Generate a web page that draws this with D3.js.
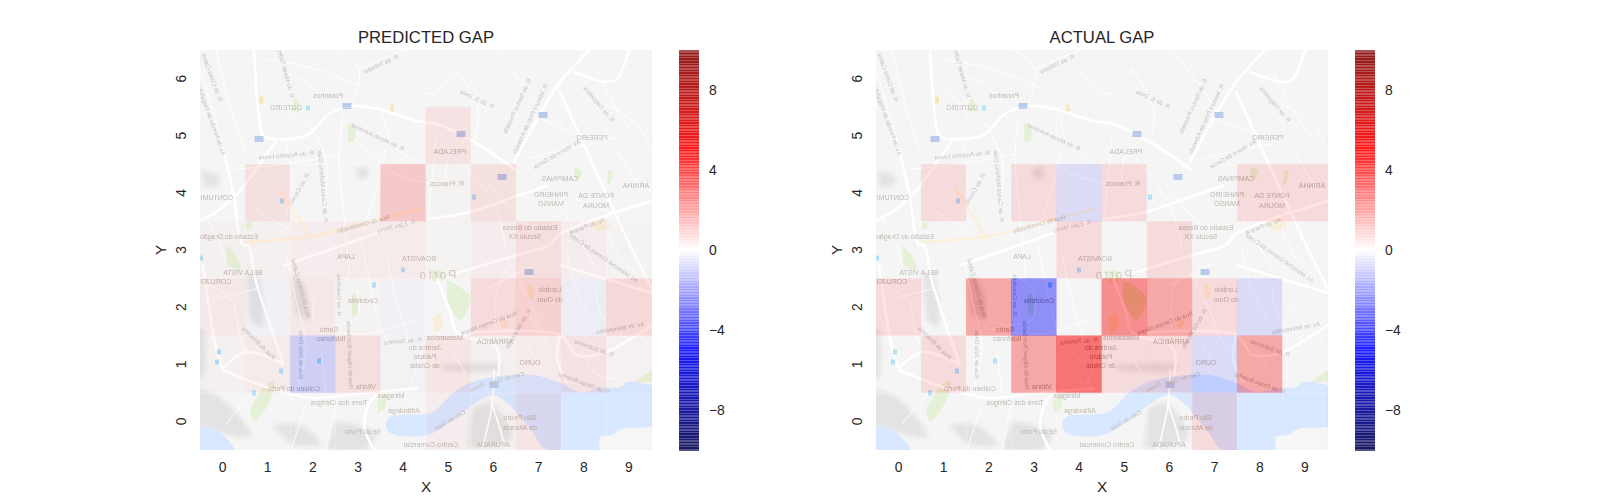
<!DOCTYPE html>
<html>
<head>
<meta charset="utf-8">
<script src="https://cdn.jsdelivr.net/npm/d3@7"></script>
<style>
  html, body { margin: 0; background: #fff; }
  text { font-family: "Liberation Sans", Arial, sans-serif; }
</style>
</head>
<body>
<div class="canvas"></div>
<script>
const xLabels = [0, 1, 2, 3, 4, 5, 6, 7, 8, 9];
const yLabels = [6, 5, 4, 3, 2, 1, 0];
const colorbarTicks = [-8, -4, 0, 4, 8];

// rows run top to bottom: Y = 6 ... Y = 0
const predictedGap = [
    [0, 0, 0, 0, 0, 0, 0, 0, 0, 0],
    [0, 0, 0, 0, 0, 0.7, 0, 0, 0, 0],
    [0, 0.8, 0, 0, 1.7, 0.1, 0.8, 0, 0, 0],
    [0.2, 0.2, 0.3, 0.4, 0.4, 0.1, 0.3, 0.9, 0.3, 0.1],
    [0.5, -0.2, 0.5, 0.1, -0.15, 0, 1, 1.4, -0.3, 1.1],
    [0.2, 0.4, -1.5, 0.9, -0.1, 0.6, 0.2, 0.4, 0.7, 0.15],
    [0, 0, 0, 0, 0, 0.3, 0.2, 0.6, 0, 0]
];
const actualGap = [
    [0, 0, 0, 0, 0, 0, 0, 0, 0, 0],
    [0, 0, 0, 0, 0, 0, 0, 0, 0, 0],
    [0, 1, 0, 1, -1, 1, 0, 0, 1, 1],
    [0, 0, 0, 0, 1, 0, 1, 0, 0, 0],
    [1, 0, 3, -4, 0, 4, 3, 1, -1, 0],
    [0, 1, 0, 3, 5, 1, 1, -1, 3, 0],
    [0, 0, 0, 0, 0, 0, 0, 1, 0, 0]
];

// base map, traced in map pixels (it is mirrored left to right, as in the source)
const waterAreas = [
    [[456, 336], [431, 333], [425, 338], [407, 339], [384, 343], [364, 334], [337, 326], [297, 328], [274, 334], [257, 344],
     [243, 358], [234, 364], [194, 368], [190, 376], [194, 384], [231, 386], [257, 371], [274, 358], [297, 346], [311, 354],
     [324, 368], [337, 384], [351, 401], [456, 401]],
    [[0, 378], [10, 378], [23, 383], [38, 401], [0, 401]]
];
const sandAreas = [
    [[404, 401], [404, 388], [416, 386], [424, 381], [431, 379], [444, 379], [456, 379], [456, 401]]
];
const greenAreas = [
    [[30, 196], [42, 210], [44, 222], [31, 215]],
    [[100, 48], [95, 62], [105, 62]],
    [[152, 75], [158, 75], [158, 92], [152, 92]],
    [[251, 231], [274, 248], [264, 271], [251, 251]],
    [[236, 222], [246, 222], [246, 232], [236, 232]],
    [[67, 338], [78, 332], [74, 352], [58, 372], [54, 360]],
    [[156, 246], [160, 246], [160, 266], [156, 266]],
    [[181, 352], [190, 346], [188, 360], [182, 364]],
    [[438, 334], [456, 322], [456, 332]],
    [[379, 118], [386, 122], [383, 130], [378, 128]],
    [[412, 122], [416, 122], [414, 135], [411, 135]],
    [[50, 174], [54, 173], [56, 178], [50, 181]]
];
const sandyAreas = [
    [[331, 236], [336, 236], [337, 250], [333, 250]],
    [[306, 270], [312, 272], [309, 279], [305, 279]],
    [[395, 172], [410, 170], [414, 178], [400, 182]],
    [[236, 270], [244, 264], [246, 280], [238, 284]]
];
const shadeAreas = [
    [[5, 122], [20, 125], [24, 135], [8, 138]],
    [[50, 225], [60, 225], [66, 278], [54, 270]],
    [[95, 225], [106, 232], [114, 270], [100, 265]],
    [[0, 340], [24, 348], [55, 388], [0, 376]],
    [[0, 280], [6, 280], [6, 330], [0, 330]],
    [[76, 376], [105, 376], [125, 396], [95, 396]],
    [[140, 372], [180, 384], [170, 400], [130, 400]],
    [[245, 316], [305, 316], [305, 321], [245, 321]],
    [[276, 360], [294, 354], [316, 388], [292, 398], [272, 398]],
    [[160, 120], [170, 118], [172, 128], [162, 130]]
];
const majorRoads = [
    [[58, 0], [63, 67], [68, 87], [93, 90], [113, 85], [133, 65], [157, 57], [183, 60], [221, 72], [241, 75], [278, 93], [318, 120]],
    [[318, 113], [361, 37], [378, 17], [394, 0]],
    [[378, 23], [411, 33], [421, 30], [429, 13], [434, 0]],
    [[364, 43], [408, 140], [434, 196], [456, 240]],
    [[231, 170], [274, 163], [321, 147], [351, 137]],
    [[261, 224], [321, 206], [354, 196], [364, 185], [456, 152]],
    [[88, 216], [136, 200], [218, 171]],
    [[27, 100], [37, 143], [47, 196], [52, 196], [60, 233], [73, 273], [87, 313]],
    [[0, 173], [20, 163], [43, 143], [67, 110], [80, 92]],
    [[27, 319], [50, 303], [87, 315]],
    [[27, 321], [20, 299], [7, 216]],
    [[27, 321], [73, 339], [117, 349], [150, 346], [180, 343], [222, 339]],
    [[241, 229], [254, 263], [261, 284], [301, 299], [299, 343]],
    [[274, 284], [364, 286], [381, 306], [408, 304], [456, 276]],
    [[364, 216], [456, 244]],
    [[364, 286], [361, 309], [371, 333]],
    [[221, 340], [180, 346], [168, 375], [178, 401]]
];
const bridgeRoads = [
    [[298, 321], [296, 356], [286, 401]],
    [[296, 356], [301, 370], [310, 401]]
];
const arterialRoads = [
    [[50, 193], [117, 187], [183, 170], [222, 160]],
    [[83, 140], [100, 165], [115, 190]]
];
const minorRoads = [
    [[118, 249], [118, 271], [160, 271], [160, 239], [147, 229]],
    [[147, 67], [143, 107], [150, 187], [152, 228], [147, 229]],
    [[100, 30], [110, 33], [133, 57]],
    [[163, 20], [210, 0]],
    [[157, 53], [163, 20], [140, 0]],
    [[220, 112], [197, 97], [187, 67]],
    [[20, 0], [32, 50], [48, 100]],
    [[4, 20], [16, 60], [26, 95]],
    [[110, 70], [130, 110], [128, 160]],
    [[40, 120], [90, 115], [143, 105]],
    [[90, 90], [95, 130], [90, 170]],
    [[190, 100], [180, 140], [167, 180]],
    [[240, 90], [236, 130], [232, 170]],
    [[260, 20], [282, 60], [278, 93]],
    [[300, 0], [330, 40], [347, 66]],
    [[345, 70], [385, 85], [420, 90]],
    [[330, 110], [370, 100], [400, 95]],
    [[400, 20], [420, 60], [440, 90]],
    [[250, 135], [252, 110], [270, 90]],
    [[360, 150], [380, 185], [400, 220]],
    [[410, 180], [425, 210], [440, 225]],
    [[265, 110], [300, 160], [310, 200]],
    [[10, 235], [35, 250], [45, 290], [60, 315]],
    [[90, 205], [100, 250], [110, 300], [100, 345]],
    [[165, 190], [175, 240], [190, 290], [220, 320]],
    [[120, 280], [170, 285], [220, 270]],
    [[190, 205], [200, 250], [215, 300]],
    [[310, 210], [330, 245], [345, 280]],
    [[370, 200], [380, 240], [395, 270]],
    [[400, 240], [405, 265], [430, 290]],
    [[310, 220], [300, 245], [300, 280]],
    [[255, 300], [270, 325]],
    [[385, 300], [400, 325], [420, 330]],
    [[110, 355], [95, 401]],
    [[140, 350], [130, 401]],
    [[55, 345], [30, 375]],
    [[205, 345], [220, 360]],
    [[330, 295], [345, 320]],
    [[10, 170], [22, 190], [30, 215]],
    [[70, 10], [120, 20], [170, 40]],
    [[75, 40], [100, 70]],
    [[160, 90], [200, 125], [240, 135]],
    [[205, 20], [235, 45], [260, 20]],
    [[290, 130], [330, 175], [360, 175]],
    [[410, 55], [440, 75], [456, 100]],
    [[380, 150], [420, 165]],
    [[420, 100], [445, 140]],
    [[290, 240], [340, 215]],
    [[355, 300], [330, 260]],
    [[60, 160], [100, 185]],
    [[20, 250], [60, 240]],
    [[125, 300], [130, 345]],
    [[175, 300], [210, 335]],
    [[230, 290], [215, 335]],
    [[410, 250], [456, 300]]
];
const placeLabels = [
    ['OUTEIRO', 90, 59], ['Paranhos', 132, 47], ['PRELADA', 254, 103], ['CAMPINAS', 364, 130],
    ['PINHEIRO', 355, 146], ['MANSO', 355, 155], ['FONTE DA', 400, 147], ['MOURA', 400, 157],
    ['PEREIRO', 396, 89], ['Estádio do Bessa', 334, 179], ['Século XX', 329, 188], ['R. Francos', 251, 135],
    ['Estádio do Dragão', 33, 188], ['CONTUMIL', 19, 149], ['LAPA', 150, 208], ['BELA VISTA', 47, 224],
    ['CORUJEIRA', 15, 233], ['Cedofeita', 167, 252], ['Santo', 133, 281], ['Ildefonso', 135, 290],
    ['Vitória', 170, 338], ['Miragaia', 195, 347], ['Coliseu do Porto', 98, 340], ['Torre dos Clérigos', 143, 354],
    ['Sé do Porto', 167, 383], ['Massarelos', 249, 289], ['ARRÁBIDA', 299, 293], ['OURO', 334, 314],
    ['São Pedro', 324, 369], ['da Afurada', 324, 379], ['Lordelo', 354, 241], ['do Ouro', 354, 251],
    ['Jardins do', 229, 299], ['Palácio', 229, 308], ['de Cristal', 229, 317], ['BOAVISTA', 223, 210],
    ['AFURADA', 297, 396], ['ARINHA', 440, 137], ['Centro Comercial', 235, 396], ['Alfândega', 208, 362]
];
const streetLabels = [
    ['R. de Costa Cabral', 16, 28, 70], ['Av. de Fernão de Magalhães', 15, 70, 70], ['R. do Monte Tadeu', 90, 24, 75],
    ['R. da Telheira', 185, 15, -25], ['R. do Monte Aventino', 182, 88, 25], ['R. de Augusto Lessa', 90, 106, -5],
    ['R. de Carlos Malheiro Dias', 127, 137, 85], ['R. do Covelo', 103, 140, -60], ['Rua de Constituição', 167, 175, -15],
    ['R. Egas Moniz', 200, 177, -15], ['R. de Santos Pousada', 321, 57, -65], ['R. Manuel Pinto de Azevedo', 334, 70, -65],
    ['Av. Vasco da Gama', 361, 105, -30], ['R. de Salgueiros', 403, 55, 50], ['R. de S. Dinis', 281, 50, 25],
    ['Rua de Álvares Cabral', 105, 239, 75], ['R. de Cedofeita', 143, 246, 90], ['Rua de Júlio Dinis', 105, 306, 90],
    ['Rua da Boavista', 63, 294, 45], ['Rua de Miguel Bombarda', 154, 306, 88], ['Rua do Campo Alegre', 293, 274, -20],
    ['R. de Sobreiras', 398, 299, 20], ['Av. de Montevideu', 424, 279, -10], ['R. de Diogo Botelho', 388, 334, 20],
    ['Av. Marechal Gomes da Costa', 408, 209, 35], ['Av. do Parque', 391, 177, -20], ['Cais de Gaia', 254, 371, -30],
    ['Douro', 281, 338, -30], ['R. da Torrinha', 207, 292, -5], ['R. de Gil Vicente', 322, 280, -60], ['Cais do Ouro', 311, 329, -15]
];
const routeBadges = [[63, 90], [151, 57], [347, 66], [265, 85], [306, 128], [333, 223], [298, 336]];
const stationBadges = [[112, 59], [278, 148], [86, 152], [23, 303], [21, 313], [85, 322], [58, 344], [123, 312], [178, 236], [207, 221], [5, 209]];
const yellowBadges = [[65, 51], [196, 59]];

const dims = {width: 452, height: 400, top: 50};
const panels = [
    {left: 200, title: 'PREDICTED GAP', values: predictedGap, id: 'left'},
    {left: 876, title: 'ACTUAL GAP', values: actualGap, id: 'right'}
];

const svg = d3.select('.canvas')
    .append('svg')
    .attr('width', 1600)
    .attr('height', 500)
    .style('display', 'block');

const defs = svg.append('defs');
defs.append('filter').attr('id', 'soft').append('feGaussianBlur').attr('stdDeviation', 0.45);
defs.append('filter').attr('id', 'hill')
    .attr('x', '-40%').attr('y', '-40%').attr('width', '180%').attr('height', '180%')
    .append('feGaussianBlur').attr('stdDeviation', 2.5);

// matplotlib "seismic"
const seismic = d3.scaleLinear()
    .domain([-10, -5, 0, 5, 10])
    .range(['#00004d', '#0000ff', '#ffffff', '#ff0000', '#800000'])
    .interpolate(d3.interpolateRgb);

const mapX = d3.scaleLinear().domain([4, 456]).range([0, dims.width]);
const mapY = d3.scaleLinear().domain([1, 401]).range([0, dims.height]);
const mapSmooth = d3.line().x(d => mapX(d[0])).y(d => mapY(d[1])).curve(d3.curveCatmullRom);

const drawAreas = (g, areas, fill) => {
    g.selectAll(null).data(areas).enter().append('path')
        .attr('d', d => mapSmooth(d) + 'Z')
        .attr('fill', fill);
};
const drawRoads = (g, roads, color, width) => {
    g.selectAll(null).data(roads).enter().append('path')
        .attr('d', mapSmooth)
        .attr('fill', 'none')
        .attr('stroke', color)
        .attr('stroke-width', width)
        .attr('stroke-linecap', 'round')
        .attr('stroke-linejoin', 'round');
};
const drawBadges = (g, points, fill, w, h) => {
    g.selectAll(null).data(points).enter().append('rect')
        .attr('x', d => mapX(d[0]) - w / 2)
        .attr('y', d => mapY(d[1]) - h / 2)
        .attr('width', w)
        .attr('height', h)
        .attr('fill', fill);
};

const drawBaseMap = g => {
    g.append('rect').attr('width', dims.width).attr('height', dims.height).attr('fill', '#ebebeb');

    const hills = g.append('g').attr('filter', 'url(#hill)');
    drawAreas(hills, shadeAreas, '#c6c6c6');

    const soft = g.append('g').attr('filter', 'url(#soft)');
    drawRoads(soft, minorRoads, '#ffffff', 0.9);
    drawAreas(soft, greenAreas, '#c9e2ac');
    drawAreas(soft, sandyAreas, '#f1dfb4');
    drawRoads(soft, majorRoads, '#ffffff', 2.6);
    drawRoads(soft, arterialRoads, '#fbe0b4', 2.6);
    drawAreas(soft, waterAreas, '#aed0ff');
    drawAreas(soft, sandAreas, '#ededed');
    drawRoads(soft, bridgeRoads, '#ffffff', 1.6);
    drawBadges(soft, routeBadges, '#6f96d8', 9, 6);
    drawBadges(soft, stationBadges, '#62bdf2', 4, 5);
    drawBadges(soft, yellowBadges, '#f1cd72', 4, 7);

    soft.selectAll(null).data(placeLabels).enter().append('text')
        .attr('transform', d => `translate(${mapX(d[1])}, ${mapY(d[2])}) scale(-1, 1)`)
        .attr('text-anchor', 'middle')
        .attr('dy', '0.35em')
        .attr('font-size', 7)
        .attr('fill', '#7d6f60')
        .text(d => d[0]);
    soft.selectAll(null).data(streetLabels).enter().append('text')
        .attr('transform', d => `translate(${mapX(d[1])}, ${mapY(d[2])}) rotate(${d[3]}) scale(-1, 1)`)
        .attr('text-anchor', 'middle')
        .attr('dy', '0.35em')
        .attr('font-size', 6)
        .attr('fill', '#808080')
        .text(d => d[0]);
    soft.append('text')
        .attr('transform', `translate(${mapX(241)}, ${mapY(226)}) scale(-1, 1)`)
        .attr('text-anchor', 'middle')
        .attr('dy', '0.35em')
        .attr('font-size', 12)
        .attr('letter-spacing', 2)
        .attr('fill', '#a09888')
        .text('Porto');
};

panels.forEach(panel => {
    const graph = svg.append('g').attr('transform', `translate(${panel.left}, ${dims.top})`);

    const x = d3.scaleBand().domain(xLabels).range([0, dims.width - 0.5]);
    const y = d3.scaleBand().domain(yLabels).range([0, dims.height]);

    defs.append('clipPath').attr('id', 'clip-' + panel.id)
        .append('rect').attr('width', dims.width).attr('height', dims.height);

    const plot = graph.append('g').attr('clip-path', `url(#clip-${panel.id})`);
    drawBaseMap(plot);

    // cells overlap a little, which gives the seams of the original mesh
    const cells = panel.values.flatMap((row, i) => row.map((v, j) => ({x: xLabels[j], y: yLabels[i], v})));
    plot.selectAll('.cell').data(cells).enter().append('rect')
        .attr('class', 'cell')
        .attr('x', d => x(d.x) - 0.3)
        .attr('y', d => y(d.y) - 0.3)
        .attr('width', x.bandwidth() + 0.6)
        .attr('height', y.bandwidth() + 0.6)
        .attr('fill', d => seismic(d.v))
        .attr('fill-opacity', 0.5);

    const xAxis = graph.append('g')
        .attr('transform', `translate(0, ${dims.height})`)
        .call(d3.axisBottom(x).tickSize(0).tickPadding(12));
    const yAxis = graph.append('g')
        .call(d3.axisLeft(y).tickSize(0));
    [xAxis, yAxis].forEach(a => {
        a.select('.domain').remove();
        a.attr('font-family', null);
        a.selectAll('text').attr('font-size', 13.9).attr('fill', '#262626');
    });
    yAxis.selectAll('text')
        .attr('x', null)
        .attr('text-anchor', 'middle')
        .attr('transform', 'translate(-18.5, 0) rotate(-90)')
        .attr('dy', '0.35em');

    graph.append('text')
        .attr('x', dims.width / 2)
        .attr('y', -7)
        .attr('text-anchor', 'middle')
        .attr('font-size', 16.67)
        .attr('fill', '#262626')
        .text(panel.title);
    graph.append('text')
        .attr('x', dims.width / 2)
        .attr('y', dims.height + 42)
        .attr('text-anchor', 'middle')
        .attr('font-size', 15.3)
        .attr('fill', '#262626')
        .text('X');
    graph.append('text')
        .attr('transform', `translate(-34, ${dims.height / 2}) rotate(-90)`)
        .attr('text-anchor', 'middle')
        .attr('font-size', 15.3)
        .attr('fill', '#262626')
        .text('Y');

    // colorbar: 256 translucent levels whose edges overlap, hence the stripes
    const barX = dims.width + 27;
    const barW = 20;
    const barScale = d3.scaleLinear().domain([10, -10]).range([0, dims.height]);
    const levels = d3.range(256).map(i => 10 - (i + 0.5) * 20 / 256);
    const bar = graph.append('g');
    bar.selectAll('rect').data(levels).enter().append('rect')
        .attr('x', barX)
        .attr('y', d => barScale(d) - 0.8)
        .attr('width', barW)
        .attr('height', 2.3)
        .attr('fill', d => seismic(d))
        .attr('fill-opacity', 0.68)
        .attr('shape-rendering', 'crispEdges');

    const barAxis = graph.append('g')
        .attr('transform', `translate(${barX + barW}, 0)`)
        .call(d3.axisRight(barScale).tickValues(colorbarTicks).tickSize(0).tickPadding(10));
    barAxis.select('.domain').remove();
    barAxis.attr('font-family', null);
    barAxis.selectAll('text').attr('font-size', 13.9).attr('fill', '#262626');
});
</script>
</body>
</html>
